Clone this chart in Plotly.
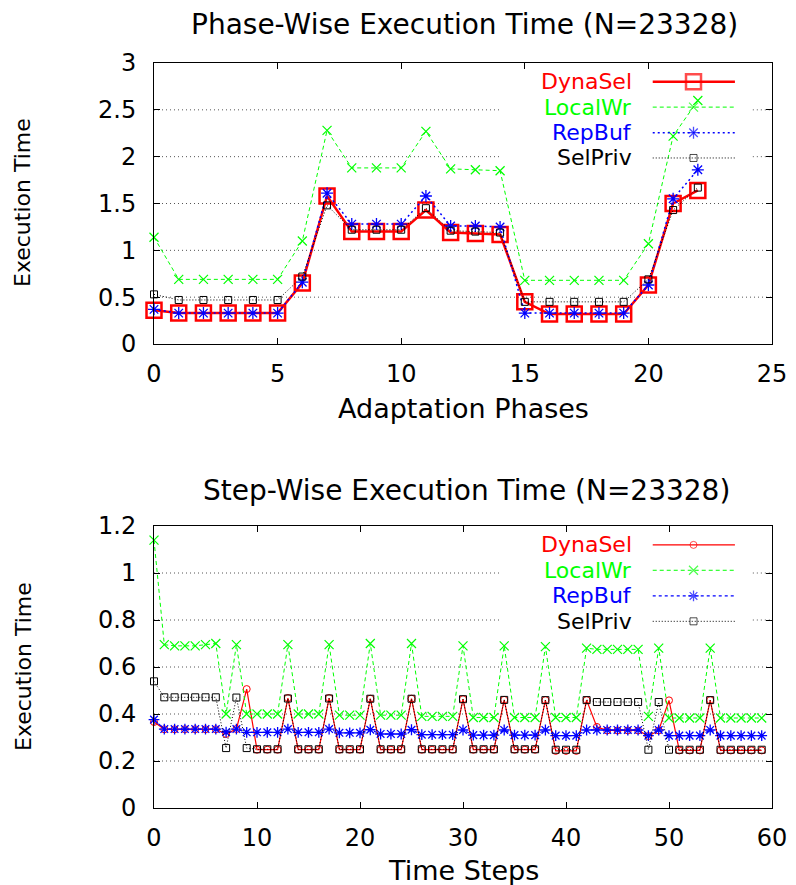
import plotly.graph_objects as go

# ---------------- data ----------------
series_names = ["DynaSel", "LocalWr", "RepBuf", "SelPriv"]

phase_idx = list(range(23))
dynasel_phase = [0.36, 0.33, 0.33, 0.33, 0.33, 0.33, 0.65, 1.58, 1.20, 1.20, 1.20, 1.43,
                 1.19, 1.18, 1.17, 0.45, 0.32, 0.32, 0.32, 0.32, 0.63, 1.50, 1.64]
localwr_phase = [1.14, 0.69, 0.69, 0.69, 0.69, 0.69, 1.10, 2.28, 1.88, 1.88, 1.88, 2.27,
                 1.87, 1.86, 1.85, 0.68, 0.68, 0.68, 0.68, 0.68, 1.07, 2.22, 2.60]
repbuf_phase = [0.37, 0.33, 0.33, 0.33, 0.33, 0.33, 0.66, 1.61, 1.28, 1.28, 1.28, 1.58,
                1.26, 1.26, 1.25, 0.33, 0.33, 0.33, 0.33, 0.33, 0.63, 1.55, 1.86]
selpriv_phase = [0.53, 0.47, 0.47, 0.47, 0.47, 0.47, 0.72, 1.48, 1.22, 1.22, 1.22, 1.45,
                 1.21, 1.20, 1.19, 0.45, 0.45, 0.45, 0.45, 0.45, 0.69, 1.43, 1.67]

step_idx = list(range(60))
dynasel_step = [0.366, 0.335, 0.335, 0.335, 0.335, 0.335, 0.335, 0.315, 0.336, 0.506,
                0.248, 0.248, 0.248, 0.468, 0.248, 0.248, 0.248, 0.468, 0.248, 0.248,
                0.248, 0.465, 0.248, 0.248, 0.248, 0.465, 0.248, 0.248, 0.248, 0.248,
                0.463, 0.248, 0.248, 0.248, 0.460, 0.248, 0.248, 0.248, 0.459, 0.243,
                0.243, 0.243, 0.459, 0.345, 0.330, 0.330, 0.330, 0.330, 0.306, 0.330,
                0.458, 0.245, 0.245, 0.245, 0.459, 0.245, 0.245, 0.245, 0.245, 0.245]
localwr_step = [1.14, 0.695, 0.69, 0.69, 0.69, 0.695, 0.70, 0.40, 0.695, 0.40,
                0.40, 0.40, 0.40, 0.695, 0.40, 0.40, 0.40, 0.695, 0.395, 0.395,
                0.395, 0.70, 0.395, 0.395, 0.395, 0.70, 0.39, 0.39, 0.39, 0.39,
                0.69, 0.385, 0.385, 0.385, 0.69, 0.385, 0.385, 0.385, 0.687, 0.385,
                0.385, 0.385, 0.68, 0.675, 0.675, 0.675, 0.675, 0.675, 0.39, 0.68,
                0.383, 0.383, 0.383, 0.383, 0.68, 0.383, 0.383, 0.383, 0.383, 0.383]
repbuf_step = [0.376, 0.336, 0.336, 0.336, 0.336, 0.336, 0.336, 0.323, 0.336, 0.322,
               0.322, 0.322, 0.322, 0.336, 0.322, 0.322, 0.322, 0.336, 0.320, 0.320,
               0.320, 0.333, 0.315, 0.315, 0.315, 0.333, 0.312, 0.312, 0.312, 0.312,
               0.332, 0.310, 0.310, 0.310, 0.332, 0.310, 0.310, 0.310, 0.332, 0.308,
               0.308, 0.308, 0.332, 0.332, 0.332, 0.332, 0.332, 0.332, 0.308, 0.332,
               0.308, 0.308, 0.308, 0.308, 0.332, 0.308, 0.308, 0.308, 0.308, 0.308]
selpriv_step = [0.539, 0.471, 0.471, 0.471, 0.471, 0.471, 0.471, 0.255, 0.470, 0.255,
                0.250, 0.250, 0.250, 0.466, 0.250, 0.250, 0.250, 0.466, 0.250, 0.250,
                0.250, 0.465, 0.250, 0.250, 0.250, 0.465, 0.250, 0.250, 0.250, 0.250,
                0.463, 0.250, 0.250, 0.250, 0.460, 0.250, 0.250, 0.250, 0.459, 0.248,
                0.248, 0.248, 0.459, 0.451, 0.451, 0.451, 0.451, 0.451, 0.248, 0.451,
                0.248, 0.248, 0.248, 0.248, 0.459, 0.248, 0.248, 0.248, 0.248, 0.248]

phase_yticks = [0, 0.5, 1, 1.5, 2, 2.5, 3]
step_yticks = [0, 0.2, 0.4, 0.6, 0.8, 1.0, 1.2]

# ---------------- styling ----------------
W, H = 796, 885
FONT = "DejaVu Sans"
RED, GREEN, BLUE, BLACK = "#ff0000", "#00ff00", "#0000ff", "#000000"


def px_x(px):
    return px / W


def px_y(py):
    return 1 - py / H


# plot areas (pixels)
LEFT, RIGHT = 154, 772
TOP1, BOT1 = 63, 344
TOP2, BOT2 = 526, 808

top_styles = [
    dict(color=RED, dash="solid", width=2.5, symbol="square-open", size=15, mlw=2.5),
    dict(color=GREEN, dash="4px,3px", width=1, symbol="x-thin-open", size=9, mlw=1.2),
    dict(color=BLUE, dash="2px,3px", width=1.5, symbol="asterisk-open", size=10, mlw=1.3),
    dict(color=BLACK, dash="1px,2px", width=1, symbol="square-open", size=7, mlw=1),
]
bot_styles = [
    dict(color=RED, dash="solid", width=1.2, symbol="circle-open", size=7, mlw=1),
    dict(color=GREEN, dash="4px,3px", width=1, symbol="x-thin-open", size=9, mlw=1.2),
    dict(color=BLUE, dash="3px,3px", width=1.2, symbol="asterisk-open", size=9, mlw=1.3),
    dict(color=BLACK, dash="1px,2px", width=1, symbol="square-open", size=7, mlw=1),
]

fig = go.Figure()

phase_series = [dynasel_phase, localwr_phase, repbuf_phase, selpriv_phase]
step_series = [dynasel_step, localwr_step, repbuf_step, selpriv_step]

for name, ys, st in zip(series_names, phase_series, top_styles):
    fig.add_trace(go.Scatter(
        x=phase_idx, y=ys, name=name, mode="lines+markers", xaxis="x", yaxis="y",
        line=dict(color=st["color"], dash=st["dash"], width=st["width"]),
        marker=dict(symbol=st["symbol"], size=st["size"], color=st["color"],
                    line=dict(color=st["color"], width=st["mlw"])),
        cliponaxis=False, showlegend=False))

for name, ys, st in zip(series_names, step_series, bot_styles):
    fig.add_trace(go.Scatter(
        x=step_idx, y=ys, name=name, mode="lines+markers", xaxis="x2", yaxis="y2",
        line=dict(color=st["color"], dash=st["dash"], width=st["width"]),
        marker=dict(symbol=st["symbol"], size=st["size"], color=st["color"],
                    line=dict(color=st["color"], width=st["mlw"])),
        cliponaxis=False, showlegend=False))

# ---- gnuplot-style keys: label on the left, sample line with marker on the right ----
key_rows = [0.933, 0.843, 0.752, 0.662]
key_x0, key_xm, key_x1, key_text_x = 0.807, 0.873, 0.940, 0.777
# horizontal span of the key block (axis-domain fraction) and its lower edge
key_box_x0, key_box_x1, key_box_y0 = 0.563, 0.969, 0.62

annotations = []
for axes_pair, styles in ((("x3", "y3"), top_styles), (("x4", "y4"), bot_styles)):
    xa, ya = axes_pair
    for name, st, ky in zip(series_names, styles, key_rows):
        fig.add_trace(go.Scatter(
            x=[key_x0, key_xm, key_x1], y=[ky, ky, ky], mode="lines+markers",
            xaxis=xa, yaxis=ya, hoverinfo="skip",
            line=dict(color=st["color"], dash=st["dash"], width=st["width"]),
            marker=dict(symbol=st["symbol"], size=[0, st["size"], 0], color=st["color"],
                        line=dict(color=st["color"], width=st["mlw"])),
            cliponaxis=False, showlegend=False))
        annotations.append(dict(
            x=key_text_x, y=ky, xref=xa, yref=ya, text=name, showarrow=False,
            xanchor="right", yanchor="middle",
            font=dict(family=FONT, size=22, color=st["color"])))

# titles
annotations += [
    dict(x=px_x(465), y=px_y(25), xref="paper", yref="paper",
         text="Phase-Wise Execution Time (N=23328)", showarrow=False,
         xanchor="center", yanchor="middle", font=dict(family=FONT, size=28, color=BLACK)),
    dict(x=px_x(466), y=px_y(490), xref="paper", yref="paper",
         text="Step-Wise Execution Time (N=23328)", showarrow=False,
         xanchor="center", yanchor="middle", font=dict(family=FONT, size=28, color=BLACK)),
    dict(x=px_x(463), y=px_y(408), xref="paper", yref="paper",
         text="Adaptation Phases", showarrow=False,
         xanchor="center", yanchor="middle", font=dict(family=FONT, size=27, color=BLACK)),
    dict(x=px_x(463), y=px_y(870), xref="paper", yref="paper",
         text="Time Steps", showarrow=False,
         xanchor="center", yanchor="middle", font=dict(family=FONT, size=27, color=BLACK)),
    dict(x=px_x(23), y=px_y(203), xref="paper", yref="paper",
         text="Execution Time", showarrow=False, textangle=-90,
         xanchor="center", yanchor="middle", font=dict(family=FONT, size=22, color=BLACK)),
    dict(x=px_x(23), y=px_y(667), xref="paper", yref="paper",
         text="Execution Time", showarrow=False, textangle=-90,
         xanchor="center", yanchor="middle", font=dict(family=FONT, size=22, color=BLACK)),
]

# dotted horizontal grid, interrupted where the key block sits
GRID = dict(color="#555555", width=1, dash="1px,3px")
shapes = []
for xr, yr, ticks in (("x domain", "y", phase_yticks), ("x2 domain", "y2", step_yticks)):
    lo, hi = ticks[0], ticks[-1]
    for t in ticks[1:-1]:
        frac = (t - lo) / (hi - lo)
        if frac >= key_box_y0:
            spans = [(0, key_box_x0), (key_box_x1, 1)]
        else:
            spans = [(0, 1)]
        for a, b in spans:
            shapes.append(dict(type="line", xref=xr, yref=yr, x0=a, x1=b, y0=t, y1=t,
                               line=GRID, layer="below"))

xdom = [px_x(LEFT), px_x(RIGHT)]
tickfont = dict(family=FONT, size=24, color=BLACK)
common_x = dict(showline=True, linecolor=BLACK, linewidth=1, mirror="ticks",
                ticks="inside", ticklen=6, tickcolor=BLACK, showgrid=False,
                zeroline=False, tickfont=tickfont, ticklabelstandoff=8, automargin=False)
common_y = dict(showline=True, linecolor=BLACK, linewidth=1, mirror="ticks",
                ticks="inside", ticklen=6, tickcolor=BLACK, showgrid=False,
                zeroline=False, tickfont=tickfont, ticklabelstandoff=12, automargin=False)
hidden = dict(visible=False, range=[0, 1], fixedrange=True, automargin=False)

fig.update_layout(
    width=W, height=H,
    autosize=False,
    margin=dict(l=0, r=0, t=0, b=0, pad=0, autoexpand=False),
    paper_bgcolor="white", plot_bgcolor="white",
    font=dict(family=FONT, color=BLACK),
    xaxis=dict(domain=xdom, range=[0, 25], dtick=5, anchor="y", **common_x),
    yaxis=dict(domain=[px_y(BOT1), px_y(TOP1)], range=[phase_yticks[0], phase_yticks[-1]],
               tickvals=phase_yticks, anchor="x", **common_y),
    xaxis2=dict(domain=xdom, range=[0, 60], dtick=10, anchor="y2", **common_x),
    yaxis2=dict(domain=[px_y(BOT2), px_y(TOP2)], range=[step_yticks[0], step_yticks[-1]],
                tickvals=step_yticks, anchor="x2", **common_y),
    xaxis3=dict(overlaying="x", anchor="y3", **hidden),
    yaxis3=dict(overlaying="y", anchor="x3", **hidden),
    xaxis4=dict(overlaying="x2", anchor="y4", **hidden),
    yaxis4=dict(overlaying="y2", anchor="x4", **hidden),
    annotations=annotations,
    shapes=shapes,
    showlegend=False,
)

fig.write_html("out.html")
